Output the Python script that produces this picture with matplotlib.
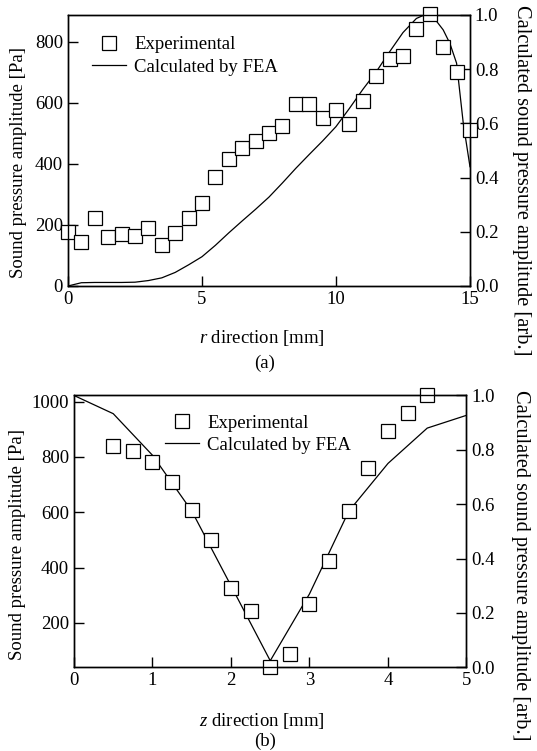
# Sound pressure amplitude: experiment vs FEA, r and z directions
import numpy as np
import matplotlib
matplotlib.use('Agg')
import matplotlib.pyplot as plt

plt.rcParams['font.family'] = 'Liberation Serif'
plt.rcParams['mathtext.fontset'] = 'custom'
plt.rcParams['mathtext.rm'] = 'Liberation Serif'
plt.rcParams['mathtext.it'] = 'Liberation Serif:italic'
FS = 13.5
plt.rcParams['font.size'] = FS

# (a) r direction
r_exp = [0, 0.5, 1.0, 1.5, 2.0, 2.5, 3.0, 3.5, 4.0, 4.5, 5.0, 5.5, 6.0, 6.5, 7.0, 7.5,
         8.0, 8.5, 9.0, 9.5, 10.0, 10.5, 11.0, 11.5, 12.0, 12.5, 13.0, 13.5, 14.0, 14.5, 15.0]
p_r_exp = [176, 145, 222, 159, 169, 165, 191, 134, 175, 222, 271, 358, 415, 451, 473, 502,
           525, 596, 596, 549, 576, 529, 607, 688, 742, 753, 841, 891, 782, 700, 509]
r_fea = [0, 0.5, 1.0, 1.5, 2.0, 2.5, 3.0, 3.5, 4.0, 4.5, 5.0, 5.5, 6.0, 6.5, 7.0, 7.5, 8.0,
         8.5, 9.0, 9.5, 10.0, 10.5, 11.0, 11.5, 12.0, 12.5, 13.0, 13.25, 13.5, 13.75, 14.0,
         14.25, 14.5, 14.75, 15.0]
p_r_fea = [0, 0.012, 0.013, 0.013, 0.013, 0.014, 0.02, 0.03, 0.05, 0.078, 0.108, 0.15, 0.196,
           0.24, 0.283, 0.328, 0.38, 0.434, 0.485, 0.535, 0.588, 0.655, 0.725, 0.79, 0.864,
           0.935, 0.987, 0.998, 0.995, 0.977, 0.945, 0.895, 0.822, 0.60, 0.44]

# (b) z direction
z_exp = [0.5, 0.75, 1.0, 1.25, 1.5, 1.75, 2.0, 2.25, 2.5, 2.75, 3.0, 3.25, 3.5, 3.75,
         4.0, 4.25, 4.5]
p_z_exp = [840, 822, 780, 709, 609, 500, 328, 244, 40, 88, 268, 424, 605, 761, 892, 958, 1022]
z_fea = [0, 0.5, 1.0, 1.5, 2.0, 2.5, 3.0, 3.5, 4.0, 4.5, 5.0]
p_z_fea = [1.0, 0.933, 0.78, 0.575, 0.30, 0.024, 0.27, 0.574, 0.75, 0.88, 0.927]

fig = plt.figure(figsize=(5.37, 7.51), dpi=100)


def style(a):
    a.tick_params(direction='in', length=7.5, width=1.0, labelsize=FS, pad=3.5)
    for s in a.spines.values():
        s.set_linewidth(1.0)


def panel(rect, x_exp, y_exp, x_fea, y_fea, xlim, ylim, xticks, yticks, xlabel, tag,
          leg_loc, lab):
    ax = fig.add_axes(rect)
    ax2 = ax.twinx()
    line, = ax2.plot(x_fea, y_fea, color='black', lw=0.9)
    pts, = ax.plot(x_exp, y_exp, 's', ms=9.5, mfc='white', mec='black', mew=0.9,
                   ls='none', clip_on=False)
    ax.set_zorder(ax2.get_zorder() + 1)
    ax.patch.set_visible(False)
    ax.set_xlim(xlim)
    ax.set_ylim(ylim)
    ax2.set_ylim(0, 1)
    ax.set_xticks(xticks)
    ax.set_yticks(yticks)
    ax2.set_yticks(np.arange(0, 1.01, 0.2))
    ax2.set_yticklabels(['%.1f' % v for v in np.arange(0, 1.01, 0.2)])
    ax.tick_params(top=False)
    style(ax)
    style(ax2)

    ax.set_ylabel('Sound pressure amplitude [Pa]')
    ax.yaxis.set_label_coords(lab['yl'][0], lab['yl'][1])
    ax.yaxis.label.set_va('center')
    ax2.set_ylabel('Calculated sound pressure amplitude [arb.]', rotation=-90,
                   fontsize=14.7)
    ax2.yaxis.set_label_coords(lab['yr'][0], lab['yr'][1])
    ax2.yaxis.label.set_va('center')
    ax.set_xlabel(xlabel)
    ax.xaxis.set_label_coords(lab['xl'][0], lab['xl'][1])
    ax.xaxis.label.set_va('center')
    ax.text(lab['tag'][0], lab['tag'][1], tag, transform=ax.transAxes,
            ha='center', va='center', fontsize=FS)

    ax.legend([pts, line], ['Experimental', 'Calculated by FEA'], loc='upper left',
              bbox_to_anchor=leg_loc, frameon=False, fontsize=FS, handlelength=1.8,
              handletextpad=0.45, labelspacing=0.28, borderpad=0, borderaxespad=0)
    return ax


panel([0.1266, 0.6192, 0.7486, 0.3609], r_exp, p_r_exp, r_fea, p_r_fea,
      (0, 15), (0, 887), [0, 5, 10, 15], [0, 200, 400, 600, 800],
      '$r$ direction [mm]', '(a)', (0.06, 0.922),
      {'yl': (-0.124, 0.454), 'yr': (1.128, 0.39), 'xl': (0.483, -0.192),
       'tag': (0.49, -0.284)})

panel([0.1378, 0.1115, 0.7309, 0.3619], z_exp, p_z_exp, z_fea, p_z_fea,
      (0, 5), (40, 1022), [0, 1, 2, 3, 4, 5], [200, 400, 600, 800, 1000],
      '$z$ direction [mm]', '(b)', (0.232, 0.93),
      {'yl': (-0.143, 0.45), 'yr': (1.138, 0.376), 'xl': (0.48, -0.198),
       'tag': (0.487, -0.271)})

plt.savefig('out.png', dpi=100)
